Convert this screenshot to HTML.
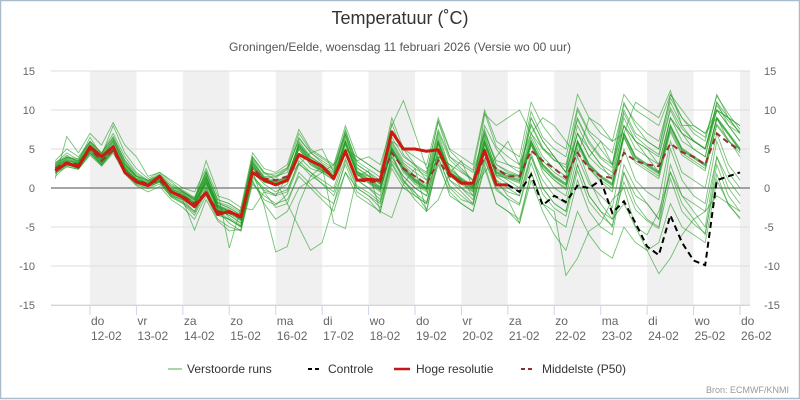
<!DOCTYPE html>
<html><head><meta charset="utf-8"><style>
body{margin:0;background:#fff;font-family:"Liberation Sans",sans-serif}
svg{display:block}
</style></head><body>
<svg id="chart" width="800" height="400" xmlns="http://www.w3.org/2000/svg">
<rect x="0.5" y="0.5" width="799" height="398" fill="#fff" stroke="#a9bccb" stroke-width="1.5"/>
<text x="400" y="24" text-anchor="middle" font-size="18" fill="#333">Temperatuur (˚C)</text>
<text x="400" y="51" text-anchor="middle" font-size="12" fill="#555">Groningen/Eelde, woensdag 11 februari 2026 (Versie wo 00 uur)</text>
<g id="bands"></g><g id="grid"></g><g id="members"></g><g id="mainlines"></g><g id="axes"></g>
<g font-size="12" fill="#333">
<g><line x1="168" y1="369" x2="182" y2="369" stroke="#a8d8a8" stroke-width="2"/><text x="187" y="373">Verstoorde runs</text></g>
<g><line x1="308" y1="369" x2="322" y2="369" stroke="#000" stroke-width="2" stroke-dasharray="4,3"/><text x="328" y="373">Controle</text></g>
<g><line x1="394" y1="369" x2="410" y2="369" stroke="#c4161c" stroke-width="2.5"/><text x="416" y="373">Hoge resolutie</text></g>
<g><line x1="521" y1="369" x2="535" y2="369" stroke="#8b3030" stroke-width="2" stroke-dasharray="4,3"/><text x="542" y="373">Middelste (P50)</text></g>
</g>
<text x="789" y="393" text-anchor="end" font-size="9" fill="#999">Bron: ECMWF/KNMI</text>
</svg>
<script>
const dayNames=["do","vr","za","zo","ma","di","wo","do","vr","za","zo","ma","di","wo","do"];
const dayDates=["12-02","13-02","14-02","15-02","16-02","17-02","18-02","19-02","20-02","21-02","22-02","23-02","24-02","25-02","26-02"];
const yTicks=[-15,-10,-5,0,5,10,15];
const startHour=6, stepHours=6;
const hires=[2.2,3.2,2.7,5.3,4,5.3,2,0.8,0.3,1.5,-0.5,-1.2,-2.4,-0.6,-3.4,-3,-3.7,2,1,0.4,1,4.3,3.5,2.8,1.2,4.7,1,1.1,1,7.2,5,5,4.7,4.9,1.8,0.6,0.6,4.8,0.4,0.4];
const controlStart=39;
const control=[0.4,-0.5,1.7,-2.2,-1,-1.8,0.3,0,1,-3.2,-1.7,-4.5,-7.5,-8.6,-3.5,-7,-9.3,-9.9,1,1.5,2];
const p50=[2.5,3.3,3,5,3.5,4.8,2,1,0.5,1,-0.5,-1,-2,-0.5,-3,-3.2,-3.8,2.5,1.2,1,1.5,4.3,3.5,2.8,1.5,4.5,1,0.8,0.8,4.5,2.5,1.5,0.5,3.5,1.5,0.8,0.5,4,2.5,1.5,1.5,4.8,3.5,2.5,1.3,4.5,2.5,1.5,1.3,4.5,3.5,3,2.8,5.7,4.6,4,3,7,5.8,4.8];
const members=[
[2.8,3.6,3.2,5.5,3.8,6,3,1.2,0.6,1.5,-0.3,-1.2,-2.5,1.5,-2.8,-3.5,-4.5,3.5,1.2,0.5,1,5,3,2,1,6.5,2.5,1.5,0.5,5.5,3,1.5,0.5,7,2.5,1.2,0.2,6.5,2.5,1.8,1.5,7,4,2.5,1.5,8,5,3,2,9,6,5,4,10,7,6,5,11,8,6],
[2,3,2.8,4.5,3,4.8,2,0.8,0.2,0.8,-1,-1.8,-3,0.2,-3.5,-4,-5,2,0.5,-0.5,0.5,4,2.5,2,1,5,1,0,-1,4,1.5,0,-1,5,1,0,-1.5,5,0.5,-0.5,-1,4,1,-1,-2,4,0.5,-1,-2.5,5,1,-0.5,-1.5,6,2,1,0,7,3,1],
[3.2,4.5,3.6,6,4.5,7,4,2,1,1.8,0.5,-0.3,-1.2,2,-1.5,-2,-3,4,2,1.5,2,6.5,4.5,3.5,2.5,7,3,2,1,6,3.5,2.5,1.5,7.5,4,3,2,7,3.5,3,2.5,8,5,3.5,3,9,6,4,3,10,7,6,5,11,8,6,5,10,9,7],
[1.8,3,2.5,4.5,3,5,2.2,0.5,0,0.8,-0.8,-1.5,-2.5,0.5,-2.8,-3.5,-4.5,1.5,0,-1,-0.5,3.5,2,1,0,4.5,1,0,-1.5,3.5,1.5,0,-1,4.5,1,-0.5,-2,5,1,0,-1,4.5,0,-2,-3,3,-1,-3,-4,2,-1,-2,-4,2,-2,-4,-6,3,-1,-3],
[2.5,3.8,3.3,5.2,4,5.8,2.8,1.5,0.8,1.3,-0.2,-0.8,-1.8,1.2,-2,-2.5,-3.5,3.2,1.5,1.5,2.5,6,4,3,2,7.5,3,2,0.5,6.5,4,3,2,8.5,4,2.5,1,7.5,3,2,1.5,9,6,4,2,10,7,5,3,11,8,6,5,12,9,7,6,12,9,8],
[2.2,3.2,2.6,4.8,3.2,5.2,2.3,0.6,0.2,0.7,-1.2,-2,-3.5,-0.5,-3,-4.5,-5.5,1.8,-0.5,-2.5,-2,2,0.5,-1,-2,3.5,0,-1,-2.5,3,0.5,-1.5,-3,3.5,-1,-2,-3,3,-2,-3,-4,2,-2,-4,-5,1,-3,-5,-6,2,-2,-4,-5,3,-1,-2,-3,4,0,-2],
[3,4,3.5,6.5,4.2,8,4.5,2.5,1.2,2,1,0,-0.5,2.5,-1,-1.5,-2.5,4.5,2.5,2,3,7.5,5,4,3,8,4,3,2,9,5,4,3,9,5,4,3,10,6,5,4,11,8,6,5,12,9,7,6,12,10,9,8,12,10,8,7,10,9,8],
[1.5,2.8,2.4,4.2,2.8,4.5,1.8,0.3,-0.5,0.2,-1.5,-2.5,-4,-1,-4,-5,-5.5,0.5,-1,-2,-1.5,1.5,0,-1.5,-3,2,-1,-2,-3,2.5,0,-1,-2,3,-0.5,-2,-3,2.5,-2,-3,-4.5,1,-3,-6,-8,-3,-6,-8,-9,-5,-7,-8,-7,-2,-5,-6,-7,1,-2,-4],
[2.7,3.5,3.1,5,3.6,5.6,2.5,1,0.4,1.1,-0.6,-1.1,-2.1,0.8,-2.6,-3.2,-4,2.8,1,0.8,1.5,5.5,4,3,1.5,6,2,1.5,0.5,5,2.5,1,0,5.5,2,1,0,6,2,1,0,5.5,2.5,1,0,6,2.5,1,0,6.5,3.5,2.5,1.5,7.5,4.5,3.5,2.5,8,6,4.5],
[2.4,3.3,2.9,5.1,3.4,5.3,2.6,1.1,0.6,1.4,-0.2,-0.6,-1.5,1.5,-2.2,-2.8,-3.8,3.3,1.3,1,1.3,5.8,3.8,2.8,1.8,6.8,2.2,1.2,0.2,5.2,2.8,1.2,0.3,6.5,2.3,1.3,0.3,6.8,2.3,1.8,1.3,6.5,3.5,2,1,7,4,2.5,1.5,8,5,4,3,9,6,5,4,10,8,6],
[3.5,5,4,6,4.5,6.5,3.5,1.5,0.5,1,-1,-1.5,-3,0,-3,-4,-5,1,-2,-4,-3,0,1,2,3,5,4,3,2,6,5,3,1,4,3,2,1,8,5,3,2,9,6,4,2,7,5,3,1,8,6,4,2,9,7,5,4,11,9,7],
[2,3,2.5,4.8,3,5,2.2,0.8,0.3,1,-0.5,-1,-2,0.8,-2.3,-3,-3.8,2.5,0.8,0.5,1,5,3,2.2,1.3,5.5,1.8,0.8,-0.2,5,2,0.5,-0.5,6,1.5,0.5,-0.5,5.5,1.5,0.5,-0.5,6,2,0,-1,5,1,-2,-4,-2,-5,-8,-11,-9,-6,-4,-3,-1,-2,-3],
[2.9,3.7,3.2,5.3,3.7,5.4,2.7,1,0.5,1.3,-0.4,-0.9,-1.8,1.1,-2.4,-2.9,-3.6,3,1.1,0.9,1.4,5.6,3.6,2.6,1.6,6.1,2.1,1.1,0.1,5.1,2.6,1.1,0.1,6.1,2.1,1.1,0.1,6.1,2.1,1.6,1.1,6.1,3.1,1.6,0.6,6.1,3.1,1.6,0.6,7.1,4.1,3.1,2.1,8.1,5.1,4.1,3.1,9.1,7.1,5.1],
[2.3,3.1,2.7,4.9,3.3,5.5,2.4,0.7,0.3,0.9,-0.7,-1.3,-2.3,0.6,-2.7,-3.3,-4.2,2.6,0.7,0.4,0.8,5.2,3.2,2.2,1.2,5.8,1.8,0.6,-0.5,4.8,2.2,0.7,-0.3,5.8,1.8,0.8,-0.4,5.8,1.6,1.2,0.6,5.5,2.5,1,-0.2,5.5,2.5,0.8,-0.5,6.5,3.2,2.2,1.2,7.2,4.2,3.2,2.2,8.2,6.2,4],
[3,4,3.5,5,4,6,3,1.5,1,1.5,0,-0.5,-1.5,2,-1.5,-2,-3,4,2,1,-2,-5,-8,-7,-2,2,0,-1,-2,4,1,-1,-2,5,2,0,-1,5,1,-1,-2,4,0,-2,-3,3,-1,-3,-5,3,0,-2,-4,5,1,-1,-2,6,2,0],
[2.6,3.4,3,5,3.5,5.2,2.4,0.9,0.4,1.2,-0.5,-1,-2,0.9,-2.5,-3,-3.9,2.9,1,0.7,1.2,5.4,3.4,2.4,1.4,5.9,1.9,0.9,-0.1,4.9,2.4,0.9,-0.1,5.9,1.9,0.9,-0.1,5.9,1.9,1.4,0.9,5.9,2.9,1.4,0.4,5.9,2.9,1.4,0.4,6.9,3.9,2.9,1.9,7.9,4.9,3.9,2.9,8.9,6.9,4.9],
[1.2,6.6,4.5,7,5.5,8.4,5.5,4,1.5,2,0.8,-0.5,-1.5,3.5,-0.5,-7.7,-2.5,-2.8,-0.5,-1,1.5,3,4.5,5,2,5,3.5,4,3,8,11.2,7,2.5,4,3,1,-1,9.5,8,9,10,7,9,8,6,4,9,8,6,7,11,10,9,12.5,8,8,7,9,6,5],
[3.3,3.9,3.8,5.8,4.1,6.3,3.3,1.3,0.7,1.6,-0.1,-0.7,-1.6,1.8,-2.3,-3.8,-4.8,2.2,-2.3,-8.2,-7.5,-2,1.5,2.8,-4.5,-5.2,1.5,2.2,-3,-3.8,0.5,2.5,-3,-1.5,2,3.5,0,2,4,6,3,7,5,4,2,7,4,6,3,8,6,5,3,9,7,6,5,10,8,7],
[2.1,2.9,2.7,4.6,3.2,4.9,2.1,0.9,0.4,0.9,-0.9,-1.6,-5.4,-1.5,-4.2,-5.5,-5.3,0.8,-1.5,-2.2,-0.8,3,2,0.5,-1,3,-0.5,-1.5,-3.2,4.5,1,-0.5,-2.8,4,0,-1.5,-2,3.5,0,-1.5,-4.5,2,-2,-3,-11.2,-9,-5.5,-4.5,-1.5,0,-5,-6,-3,2,-1,-3,-5,4,1,-1],
[2.8,3.9,3.4,5.6,4.3,6.2,3.1,1.6,0.9,1.7,0.2,-0.5,-1.3,2.2,-1.8,-2.3,-3.2,3.8,1.8,1.8,2.6,7,4.8,3.8,2.8,7.3,3.4,2.4,1.4,8.3,4.3,2.8,1.8,8.6,4.8,3.3,2.3,9.6,5.3,4,3,9.8,6.5,5,4,10.3,7.3,6,4.5,10.7,8.5,7,6,11.5,9,7.5,6.5,11.8,9.5,7.5],
[2.5,3.2,2.9,5,3.4,5.1,2.5,1,0.5,1.1,-0.5,-1.2,-2.2,0.7,-2.5,-3.1,-4.1,2.7,0.9,0.6,1.1,5.3,3.3,2.3,1.3,5.7,1.7,0.7,-0.3,4.7,2.3,0.8,-0.2,5.7,1.7,0.7,-0.2,5.7,1.7,1.3,0.8,5.7,2.8,1.3,0.3,5.8,2.8,1.3,0.3,6.8,3.8,2.8,1.8,7.8,4.8,3.8,2.8,8.8,6.8,4.8],
[2.7,3.5,3.2,5.2,3.6,5.3,2.6,1.1,0.5,1.3,-0.3,-0.9,-1.9,1.2,-2.2,-3,-4.1,3.1,1.1,0.8,1.3,5.6,3.5,2.5,1.5,6,2,1,0,5.1,2.5,1,0,6,2,1,0,6,2,1.5,1,6,3,1.5,0.5,6,3,1.5,0.5,7,4,3,2,8,5,4,3,9,7,5],
[3.1,4.2,3.3,5.9,4.4,6.6,3.6,1.8,0.9,1.4,0.3,-0.4,-1.4,1.5,-1.9,-2.6,-3.4,3.6,1.4,1.3,2.4,6.3,4.6,3.2,2.3,6.9,2.6,1.6,0.7,5.8,3.2,2,1,7.2,3.6,2.2,1,7.2,3,2.2,1.6,8.2,5.2,3.6,2.6,8.8,5.7,3.8,2.6,9.6,6.6,5.3,4.3,10.3,7.6,6.1,5.1,10.6,8.6,7.2],
[1.9,2.7,2.4,4.4,2.9,4.7,1.9,0.4,-0.1,0.5,-1.1,-1.9,-3.2,-0.2,-3.3,-4.1,-4.9,1.3,-0.3,-0.8,-0.2,3.2,1.6,0.6,-0.5,3.8,0.3,-0.6,-1.8,3.2,0.8,-0.6,-1.8,3.9,0.3,-1,-2.2,3.8,-0.3,-1.4,-2.2,3.2,-0.8,-2.6,-3.6,2.2,-1.8,-3.6,-4.8,0.8,-2.8,-4.2,-5.2,1.2,-3,-4.6,-5.8,1.8,-2.2,-3.8]
];
const NS="http://www.w3.org/2000/svg";
const PL=51,PR=750,PT=71,PB=305;
const DAY=(740-90)/14;
function xH(h){return 90+(h-24)/24*DAY;}
function xI(i){return xH(startHour+i*stepHours);}
function y(v){return 188-v*(PB-PT)/30;}
function mk(tag,attrs,parent){const e=document.createElementNS(NS,tag);for(const k in attrs)e.setAttribute(k,attrs[k]);parent.appendChild(e);return e;}
const bands=document.getElementById('bands'),grid=document.getElementById('grid'),mem=document.getElementById('members'),ml=document.getElementById('mainlines'),ax=document.getElementById('axes');
dayNames.forEach((d,k)=>{if(k%2===0){const x0=xH(24+k*24);const b=mk('rect',{x:x0,y:PT,width:Math.min(DAY,PR-x0),height:PB-PT,fill:'#f0f0f0'},bands);

}});
yTicks.forEach(v=>{const l=mk('line',{x1:PL,x2:PR,y1:y(v),y2:y(v),stroke:v===0?'#888':'#dedede','stroke-width':v===0?1.5:1},grid);


const t1=mk('text',{x:35,y:y(v)+4,'text-anchor':'end','font-size':11,fill:'#666'},ax);t1.textContent=v;


const t2=mk('text',{x:764,y:y(v)+4,'font-size':11,fill:'#666'},ax);t2.textContent=v;

});
const xl=mk('line',{x1:PL,x2:PR,y1:PB+0.5,y2:PB+0.5,stroke:'#ccd6eb'},ax);


dayNames.forEach((d,k)=>{const x=xH(24+k*24);
const tk=mk('line',{x1:x,x2:x,y1:PB,y2:PB+10,stroke:'#ccd6eb'},ax);


const t=mk('text',{x:x+1,y:325,'font-size':12,fill:'#666'},ax);t.textContent=d;


const t2=mk('text',{x:x+1,y:340,'font-size':12,fill:'#666'},ax);t2.textContent=dayDates[k];

});
function pts(arr,off){return arr.map((v,i)=>xI(i+off).toFixed(1)+','+y(v).toFixed(1)).join(' ');}
members.forEach((m,j)=>{const p=mk('polyline',{points:pts(m,0),fill:'none',stroke:'#1e9a1e','stroke-width':0.9,'stroke-opacity':0.6},mem);

});
const pc=mk('polyline',{points:pts(control,controlStart),fill:'none',stroke:'#000','stroke-width':2,'stroke-dasharray':'6,4'},ml);


const pp=mk('polyline',{points:pts(p50,0),fill:'none',stroke:'#993333','stroke-width':2,'stroke-dasharray':'6,4'},ml);


const ph=mk('polyline',{points:pts(hires,0),fill:'none',stroke:'#cc1a10','stroke-width':3,'stroke-linejoin':'round'},ml);


</script>
</body></html>
